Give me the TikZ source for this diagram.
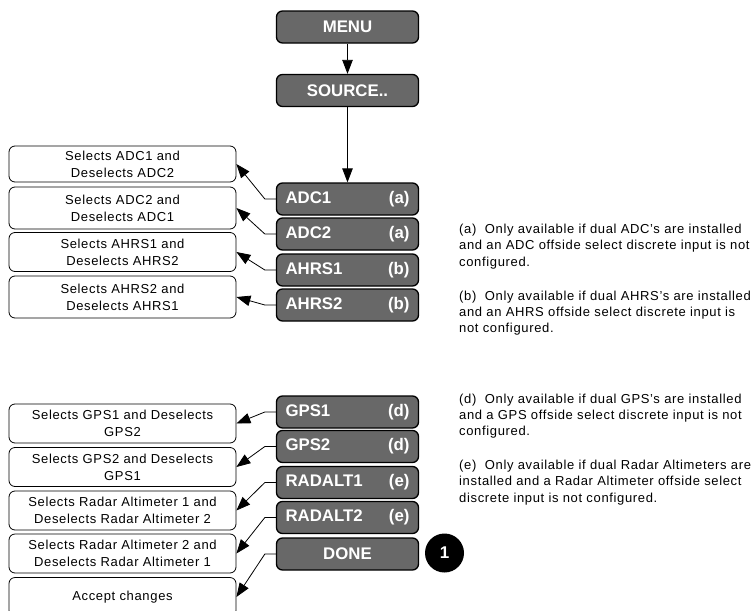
\documentclass[tikz,border=0pt]{standalone}
\usepackage{fontspec}
\setmainfont{Liberation Sans}
\newfontfamily\notefont{Liberation Sans}[LetterSpace=5]
\usetikzlibrary{arrows.meta, positioning}
\definecolor{BoxGray}{HTML}{686868}
\newcommand{\itemrow}[2]{\makebox[124pt]{#1\hfill#2}}

\begin{document}
\begin{tikzpicture}[x=1pt, y=-1pt,
  menubox/.style={draw=black, line width=1.3pt, fill=BoxGray, rounded corners=6pt,
    minimum width=142pt, minimum height=32pt, inner sep=0pt, text=white,
    font=\fontsize{16.8}{18}\selectfont\bfseries},
  notebox/.style={draw=black, line width=0.8pt, rounded corners=6pt, minimum width=227pt,
    align=center, inner sep=0pt, font=\notefont\fontsize{13}{17}\selectfont},
  footnote/.style={anchor=north west, align=left, inner sep=0pt,
    font=\notefont\fontsize{13}{16.3}\selectfont},
  pick/.style={-{Triangle[length=14pt, width=10.5pt]}, line width=0.8pt},
]
  \useasboundingbox (0,0) rectangle (756,611);
  \clip (0,0) rectangle (756,611);
  % Menu column
  \node[menubox] (menu)    at (347.5,27)    {MENU};
  \node[menubox] (source)  at (347.5,90.5)  {SOURCE..};
  \node[menubox] (adc1)    at (347.5,199)   {\itemrow{ADC1}{(a)}};
  \node[menubox] (adc2)    at (347.5,234)   {\itemrow{ADC2}{(a)}};
  \node[menubox] (ahrs1)   at (347.5,270)   {\itemrow{AHRS1}{(b)}};
  \node[menubox] (ahrs2)   at (347.5,305)   {\itemrow{AHRS2}{(b)}};
  \node[menubox] (gps1)    at (347.5,412)   {\itemrow{GPS1}{(d)}};
  \node[menubox] (gps2)    at (347.5,446.5) {\itemrow{GPS2}{(d)}};
  \node[menubox] (radalt1) at (347.5,482.5) {\itemrow{RADALT1}{(e)}};
  \node[menubox] (radalt2) at (347.5,517.5) {\itemrow{RADALT2}{(e)}};
  \node[menubox] (done)    at (347.5,554)   {DONE};
  % Callout
  \node[circle, fill=black, minimum size=39pt, inner sep=0pt, text=white,
    font=\fontsize{17}{18}\selectfont\bfseries] (callout) at (444.5,553) {1};
  % Result boxes
  \node[notebox, minimum height=36pt] (adc1note)    at (122.5,164)   {Selects ADC1 and\\Deselects ADC2};
  \node[notebox, minimum height=42pt] (adc2note)    at (122.5,208)   {Selects ADC2 and\\Deselects ADC1};
  \node[notebox, minimum height=39pt] (ahrs1note)   at (122.5,252)   {Selects AHRS1 and\\Deselects AHRS2};
  \node[notebox, minimum height=42pt] (ahrs2note)   at (122.5,297)   {Selects AHRS2 and\\Deselects AHRS1};
  \node[notebox, minimum height=39pt] (gps1note)    at (122.5,423.5) {Selects GPS1 and Deselects\\GPS2};
  \node[notebox, minimum height=39pt] (gps2note)    at (122.5,467)   {Selects GPS2 and Deselects\\GPS1};
  \node[notebox, minimum height=39pt] (radalt1note) at (122.5,510.5) {Selects Radar Altimeter 1 and\\Deselects Radar Altimeter 2};
  \node[notebox, minimum height=39pt] (radalt2note) at (122.5,553.5) {Selects Radar Altimeter 2 and\\Deselects Radar Altimeter 1};
  \node[notebox, minimum height=39pt] (acceptnote)  at (122.5,597)   {Accept changes};
  % Footnotes
  \node[footnote] (fna) at (459,224)   {(a)\ \ Only available if dual ADC’s are installed\\and an ADC offside select discrete input is not\\configured.};
  \node[footnote] (fnb) at (459,290.5) {(b)\ \ Only available if dual AHRS’s are installed\\and an AHRS offside select discrete input is\\not configured.};
  \node[footnote] (fnd) at (459,393.5) {(d)\ \ Only available if dual GPS’s are installed\\and a GPS offside select discrete input is not\\configured.};
  \node[footnote] (fne) at (459,460)   {(e)\ \ Only available if dual Radar Altimeters are\\installed and a Radar Altimeter offside select\\discrete input is not configured.};
  % Connectors
  \draw[pick] (menu) -- (source);
  \draw[pick] (source) -- (adc1);
  \foreach \src/\dst in {adc1/adc1note, adc2/adc2note, ahrs1/ahrs1note, ahrs2/ahrs2note,
      gps1/gps1note, gps2/gps2note, radalt1/radalt1note, radalt2/radalt2note, done/acceptnote}
    \draw[pick] (\src.west) -- ++(-11,0) -- (\dst.east);
\end{tikzpicture}
\end{document}
